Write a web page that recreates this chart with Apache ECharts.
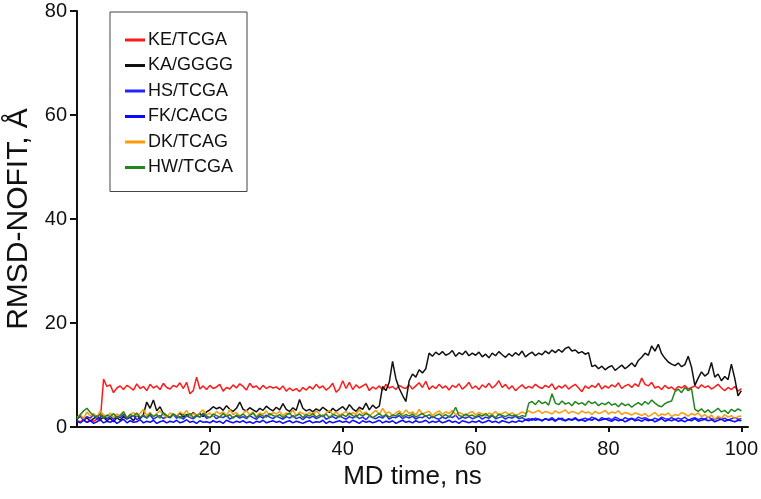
<!DOCTYPE html>
<html>
<head>
<meta charset="utf-8">
<script src="https://cdn.jsdelivr.net/npm/echarts@6/dist/echarts.min.js"></script>
<style>
html,body{margin:0;padding:0;background:#fff;}
#chart{width:761px;height:499px;}
</style>
</head>
<body>
<div id="chart"></div>
<script>
// Sampling grid: one value every 0.5 ns, from 0 to 100 ns
const timeStep = 0.5;

const seriesNames = ['KE/TCGA', 'KA/GGGG', 'HS/TCGA', 'FK/CACG', 'DK/TCAG', 'HW/TCGA'];

const keTCGA = [
  1.2,1.0,1.4,0.9,1.3,1.1,1.5,1.2,9.2,7.8,
  8.1,6.6,7.5,7.9,7.2,8.0,7.6,7.1,8.3,7.4,
  7.8,7.0,8.2,7.5,7.9,7.2,8.4,7.6,7.3,8.0,
  7.7,8.5,7.4,8.6,6.4,7.0,9.6,7.3,7.9,7.2,
  8.0,7.4,7.7,8.2,6.9,7.6,7.3,8.1,7.5,8.3,
  7.8,7.1,8.4,7.6,7.9,7.2,8.0,7.4,7.8,7.5,
  7.7,7.2,7.9,6.9,7.5,7.0,7.4,6.8,7.6,7.1,
  7.8,7.3,8.2,7.5,7.9,7.1,7.6,8.4,6.7,7.3,
  8.9,7.4,8.6,7.2,8.1,7.5,7.9,8.3,7.0,7.7,
  7.3,7.9,7.1,8.2,7.5,7.8,7.2,8.0,7.6,7.4,
  8.1,7.3,7.9,8.5,7.6,8.8,7.2,7.9,7.4,8.2,
  7.5,7.9,7.1,8.0,7.6,8.3,7.3,7.8,8.6,7.4,
  7.9,7.2,8.1,7.6,8.4,7.5,8.0,8.9,7.6,8.2,
  7.3,7.9,7.0,7.6,8.1,7.4,7.8,7.5,8.2,7.7,
  7.4,8.0,7.6,8.3,7.2,7.9,7.5,8.1,7.3,7.8,
  8.2,7.5,6.8,7.9,7.4,8.0,7.6,8.4,7.3,7.9,
  7.5,8.1,7.7,8.5,7.4,7.9,8.2,7.6,8.3,7.8,
  9.4,8.2,7.9,8.6,7.5,7.8,7.2,8.0,7.4,7.7,
  7.1,7.8,7.5,8.0,7.3,7.6,7.9,7.4,8.1,7.6,
  7.9,7.3,7.7,8.2,7.5,7.0,7.6,7.2,7.8,6.9,
  7.4
];

const kaGGGG = [
  1.5,2.1,1.3,1.8,1.1,1.6,2.2,1.4,1.9,1.2,
  1.7,1.0,1.8,1.3,2.0,1.5,1.9,1.2,2.3,1.6,
  2.4,4.8,3.6,5.2,3.1,3.9,2.6,2.2,1.8,2.5,
  2.0,2.7,1.9,2.4,2.1,2.8,2.2,2.6,2.0,2.9,
  3.3,3.9,3.5,3.8,3.2,4.1,3.4,3.0,3.6,4.8,
  3.4,3.1,3.7,3.3,2.9,3.6,3.2,4.0,3.5,3.1,
  3.8,3.3,4.5,3.4,3.0,3.7,3.2,5.3,3.6,3.1,
  3.4,2.9,3.5,3.1,3.8,3.3,2.8,3.6,3.0,3.5,
  3.9,3.2,4.3,3.5,3.0,3.8,3.4,4.6,3.3,4.2,
  3.6,4.0,7.8,7.0,8.6,12.6,9.3,7.4,6.1,4.9,
  8.9,10.2,9.6,11.0,10.4,11.2,14.2,13.6,14.4,13.9,
  14.5,13.8,14.1,14.7,13.6,14.3,13.9,14.6,13.7,14.2,
  13.8,14.4,13.5,14.0,13.3,14.2,13.7,14.5,13.9,13.4,
  14.1,13.6,14.3,13.8,14.6,13.5,14.0,14.4,13.7,14.2,
  13.9,14.6,14.1,14.8,14.3,14.9,14.4,15.1,15.4,14.6,
  14.8,14.2,14.5,14.0,14.3,11.6,11.9,11.2,11.7,11.0,
  11.5,11.8,10.9,11.4,11.9,11.2,11.7,12.3,11.6,12.8,
  13.4,14.2,13.8,15.6,14.6,15.9,14.1,13.2,12.5,12.1,
  11.8,12.3,11.6,12.0,13.6,11.5,8.0,9.4,10.6,9.8,
  10.3,12.4,9.6,10.2,8.9,9.7,9.1,12.1,9.4,6.0,
  7.0
];

const hsTCGA = [
  1.6,2.2,1.4,2.0,1.7,2.4,1.5,1.9,2.3,1.6,
  2.0,1.5,2.1,1.8,2.4,1.6,1.9,2.2,1.4,1.8,
  2.1,1.7,2.3,1.5,1.9,2.2,1.6,2.0,1.8,2.4,
  1.7,2.0,1.5,2.2,1.8,1.6,2.1,1.9,2.5,1.7,
  1.9,2.2,1.6,2.0,1.8,2.3,1.5,1.9,2.1,1.7,
  2.0,1.6,2.2,1.8,1.5,2.1,1.7,2.3,1.9,1.6,
  2.1,1.8,1.5,2.0,1.7,2.2,1.6,1.9,1.4,2.0,
  1.7,2.1,1.6,1.9,2.3,1.5,1.8,2.0,1.6,2.2,
  1.8,1.5,2.0,1.7,2.2,1.6,1.9,1.4,2.1,1.8,
  1.6,2.0,1.7,2.3,1.5,1.9,1.8,2.2,1.6,2.0,
  1.7,2.1,1.5,1.9,1.8,2.2,1.6,2.0,1.7,1.5,
  1.9,1.6,2.1,1.8,2.3,1.5,1.9,1.7,2.0,1.6,
  1.8,2.1,1.5,1.9,1.7,2.2,1.6,1.8,2.0,1.5,
  1.9,1.7,2.1,1.6,1.8,1.4,1.6,1.3,1.7,1.5,
  1.2,1.6,1.4,1.8,1.3,1.5,1.7,1.2,1.6,1.4,
  1.8,1.3,1.5,1.7,1.4,1.9,1.6,1.3,1.8,1.5,
  1.7,1.4,1.9,1.6,1.3,1.8,1.5,1.7,1.4,1.9,
  1.6,1.8,1.5,1.3,1.7,1.4,1.9,1.6,1.5,1.8,
  1.4,1.7,1.5,1.9,1.3,1.6,1.8,1.4,1.7,1.5,
  1.9,1.6,1.4,1.8,1.5,1.7,1.3,1.6,1.8,1.5,
  1.6
];

const fkCACG = [
  1.1,0.8,1.3,0.9,1.2,0.7,1.0,1.4,0.8,1.1,
  0.9,1.3,0.7,1.1,1.5,0.8,1.2,0.9,1.0,1.4,
  0.8,1.1,0.9,1.3,0.7,1.0,1.2,0.8,1.1,0.9,
  1.3,0.8,1.0,1.4,0.9,1.1,0.7,1.2,0.9,1.0,
  0.8,1.2,0.9,1.1,0.7,1.3,1.0,0.8,1.1,0.9,
  1.2,0.8,1.0,0.7,1.1,0.9,1.3,0.8,1.0,1.2,
  0.9,1.1,0.7,1.0,1.2,0.8,1.1,0.9,0.7,1.0,
  1.2,0.8,1.0,0.9,1.3,0.7,1.1,0.8,1.0,1.2,
  0.9,1.1,0.8,1.3,1.0,0.7,1.2,0.9,1.1,0.8,
  1.0,1.3,0.8,1.1,0.9,1.2,0.7,1.0,1.3,0.9,
  1.1,0.8,1.2,0.9,1.0,1.3,0.8,1.1,0.9,1.2,
  0.8,1.0,1.3,0.9,1.1,0.7,1.2,1.0,0.8,1.1,
  0.9,1.2,0.8,1.0,1.3,0.9,1.1,0.8,1.2,1.0,
  0.8,1.1,0.9,1.2,1.0,1.4,1.2,1.6,1.3,1.5,
  1.2,1.6,1.3,1.5,1.1,1.7,1.4,1.2,1.5,1.3,
  1.6,1.2,1.4,1.1,1.5,1.3,1.7,1.2,1.4,1.6,
  1.3,1.1,1.5,1.2,1.4,1.0,1.3,1.6,1.2,1.4,
  1.1,1.5,1.2,1.4,1.0,1.3,1.6,1.1,1.4,1.2,
  1.5,1.1,1.3,1.0,1.4,1.2,1.6,1.1,1.3,1.5,
  1.2,1.4,1.0,1.3,1.5,1.1,1.4,1.2,1.0,1.3,
  1.2
];

const dkTCAG = [
  1.8,2.4,1.6,2.9,2.1,2.6,1.9,3.1,2.3,2.0,
  2.7,1.9,2.5,2.2,3.0,1.8,2.4,2.8,2.1,2.6,
  3.4,2.2,2.8,2.0,2.6,3.1,2.3,1.9,2.7,2.4,
  2.1,2.9,2.4,3.2,2.0,2.6,2.2,2.8,3.3,2.3,
  2.7,2.1,3.0,2.5,2.9,2.2,3.4,2.4,2.8,2.1,
  2.6,3.2,2.3,2.9,2.0,2.7,2.4,3.1,2.2,2.8,
  2.5,3.0,2.2,2.7,2.4,3.3,2.1,2.9,2.6,2.3,
  2.8,2.2,3.1,2.5,2.0,2.7,3.2,2.4,2.9,2.3,
  2.6,3.0,2.2,2.8,2.4,3.4,2.5,2.9,2.1,2.7,
  3.2,2.4,3.6,2.6,2.9,2.2,2.7,3.1,2.4,3.3,
  2.6,2.9,2.3,3.4,2.5,2.8,3.0,2.2,2.7,3.1,
  2.4,2.9,2.6,3.2,2.3,2.8,2.5,2.1,2.7,3.0,
  2.3,2.8,2.5,2.1,2.7,2.4,3.0,2.2,2.6,2.9,
  2.4,2.7,2.2,2.5,2.9,2.6,3.1,2.7,2.9,3.2,
  2.6,3.0,2.8,2.5,3.1,2.7,2.9,3.3,2.6,3.0,
  2.8,2.5,3.1,2.7,2.9,2.4,3.0,2.6,2.8,3.2,
  2.5,2.9,2.7,3.1,2.4,2.8,2.6,2.3,2.7,2.5,
  2.2,2.6,2.0,2.4,2.8,2.1,2.5,2.3,2.7,2.0,
  2.4,2.2,2.8,2.5,2.1,2.6,2.3,2.7,2.0,2.4,
  1.8,2.3,1.5,2.1,1.7,2.4,1.9,2.2,1.6,2.0,
  2.1
];

const hwTCGA = [
  1.5,2.4,3.1,3.6,2.8,2.2,1.9,2.5,1.7,2.3,
  2.0,2.6,1.8,2.2,2.9,1.7,2.4,2.1,2.7,1.9,
  2.3,1.8,2.6,2.0,2.4,1.7,2.8,2.2,1.9,2.5,
  2.1,1.7,2.4,2.0,2.6,1.8,2.3,1.9,2.7,2.1,
  1.8,2.5,2.2,1.9,2.6,2.0,2.4,1.7,2.3,2.0,
  2.5,1.9,2.2,2.7,1.8,2.4,2.1,1.9,2.6,2.2,
  2.0,2.4,1.8,2.3,2.7,1.9,2.2,2.5,1.8,2.4,
  2.1,2.6,1.9,2.3,2.0,2.5,1.8,2.4,2.2,1.9,
  2.4,2.0,2.7,2.2,1.9,2.5,2.1,2.6,2.3,1.8,
  2.2,2.6,2.0,2.4,1.9,2.3,2.1,2.7,2.0,2.4,
  2.1,2.5,1.9,2.3,2.6,2.0,2.4,1.8,2.2,2.5,
  2.0,2.4,1.9,2.6,3.8,2.2,2.0,2.5,2.1,2.3,
  1.9,2.4,2.1,2.6,2.0,2.3,1.8,2.5,2.2,2.0,
  2.4,2.1,2.3,1.9,2.2,2.0,4.6,4.9,4.3,5.1,
  4.5,4.8,4.2,6.4,4.6,4.3,5.0,4.4,4.7,4.1,
  4.9,4.4,4.7,4.2,5.0,4.5,4.8,4.1,4.6,4.3,
  4.8,4.2,4.5,3.9,4.6,4.1,4.4,3.8,4.3,4.7,
  4.2,4.9,4.4,5.2,4.6,4.1,3.9,4.5,4.8,5.0,
  6.8,7.3,6.6,7.6,7.0,7.4,3.4,3.0,3.5,2.8,
  3.3,2.7,3.1,3.6,2.9,3.2,2.6,3.4,3.0,3.5,
  3.1
];

const seriesColors = ['#ff1a1a', '#111111', '#2323ff', '#0a0aff', '#ff9a0a', '#21861f'];
const xTickValues = [20, 40, 60, 80, 100];
const yTickValues = [0, 20, 40, 60, 80];

const seriesValues = [keTCGA, kaGGGG, hsTCGA, fkCACG, dkTCAG, hwTCGA];
const FONT = 'Liberation Sans, Arial, Helvetica, sans-serif';

function toPairs(vals) {
  return vals.map((v, i) => [i * timeStep, v]);
}

const chart = echarts.init(document.getElementById('chart'), null, {renderer: 'canvas'});
chart.setOption({
  animation: false,
  backgroundColor: '#ffffff',
  grid: {left: 77, right: 13, top: 11, bottom: 72, containLabel: false, outerBoundsMode: 'none'},
  legend: {
    orient: 'vertical',
    left: 110,
    top: 12,
    data: seriesNames,
    icon: 'rect',
    itemWidth: 20,
    itemHeight: 3,
    itemGap: 7.5,
    padding: [19, 14, 15, 15],
    borderColor: '#444',
    borderWidth: 1,
    textStyle: {fontFamily: FONT, fontSize: 18, color: '#111', padding: [0, 0, 0, -2]}
  },
  xAxis: {
    type: 'value',
    min: 0,
    max: 101,
    name: 'MD time, ns',
    nameLocation: 'middle',
    nameGap: 34,
    nameTextStyle: {fontFamily: FONT, fontSize: 26, color: '#111'},
    axisLine: {show: true, onZero: false, lineStyle: {color: '#111', width: 2}},
    axisTick: {show: true, length: 5, lineStyle: {color: '#111', width: 2}, customValues: xTickValues},
    axisLabel: {fontFamily: FONT, fontSize: 20, color: '#111', margin: 12, customValues: xTickValues},
    splitLine: {show: false}
  },
  yAxis: {
    type: 'value',
    min: 0,
    max: 80,
    interval: 20,
    name: 'RMSD-NOFIT, Å',
    nameLocation: 'middle',
    nameGap: 35,
    nameTextStyle: {fontFamily: FONT, fontSize: 30, color: '#111'},
    axisLine: {show: true, lineStyle: {color: '#111', width: 2}},
    axisTick: {show: true, length: 7, lineStyle: {color: '#111', width: 2}, customValues: yTickValues},
    axisLabel: {fontFamily: FONT, fontSize: 20, color: '#111', margin: 10, customValues: yTickValues},
    splitLine: {show: false}
  },
  series: seriesNames.map((name, k) => ({
    name: name,
    type: 'line',
    data: toPairs(seriesValues[k]),
    showSymbol: false,
    symbol: 'none',
    color: seriesColors[k],
    lineStyle: {width: 1.5, color: seriesColors[k]},
    emphasis: {disabled: true}
  }))
});
</script>
</body>
</html>
